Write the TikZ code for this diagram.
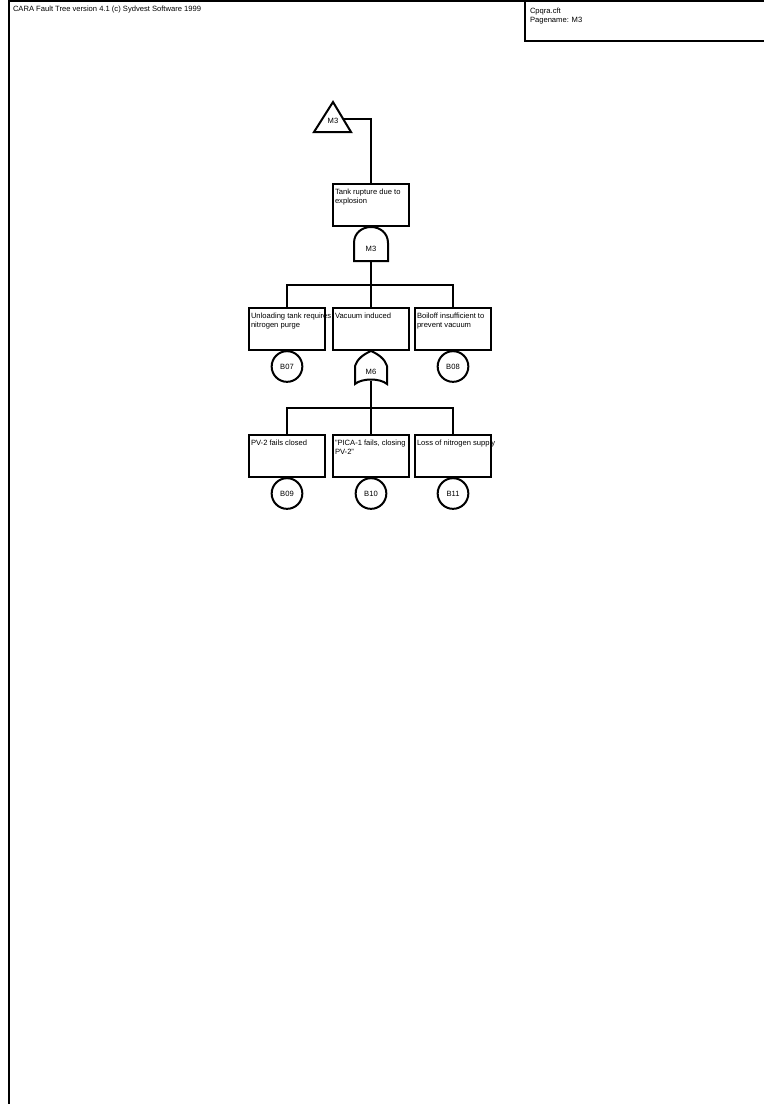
\documentclass[tikz,border=0pt]{standalone}
\usepackage{fontspec}
\setmainfont{Liberation Sans}
\tikzset{
  event/.style={rectangle,draw,minimum width=57pt,minimum height=31.5pt,inner sep=0pt},
  evtext/.style={anchor=north west,align=left,inner xsep=1.5pt,inner ysep=3.8pt,font=\fontsize{5.7}{6.7}\selectfont},
  basic/.style={circle,draw,minimum size=23pt,inner sep=0pt,font=\fontsize{5.7}{6.7}\selectfont},
  gatetext/.style={inner sep=0pt,font=\fontsize{5.7}{6.7}\selectfont},
}
\begin{document}
\begin{tikzpicture}[x=0.75pt,y=-0.75pt,line width=1.5pt]
  \useasboundingbox (0,0) rectangle (764,1104);
  % page frame and title block
  \draw (9,1104) -- (9,1) -- (764,1);
  \draw (525,1) -- (525,41) -- (764,41);
  \node[evtext,inner ysep=1.5pt] (title) at (10,3) {CARA Fault Tree version 4.1 (c) Sydvest Software 1999};
  \node[evtext,inner ysep=1.5pt] (page) at (527,5) {Cpqra.cft\\Pagename: M3};

  % transfer in
  \node[gatetext] (T) at (333,121) {M3};
  \draw (333,102) -- (351,132) -- (314,132) -- cycle;
  \coordinate (Tout) at (343,119);

  % top event and its AND gate
  \node[event,label={[evtext]north west:Tank rupture due to\\explosion}] (top) at (371,205) {};
  \draw (354,261) -- (354,243) .. controls (354,233) and (362,227) .. (371,227)
        .. controls (380,227) and (388,233) .. (388,243) -- (388,261) -- cycle;
  \node[gatetext] (G1) at (371,249) {M3};
  \coordinate (G1out) at (371,261);
  \coordinate (bar1) at (371,285);
  \draw (Tout) -| (top.north);

  % second level
  \node[event,label={[evtext]north west:Unloading tank requires\\nitrogen purge}] (E1) at (287,329) {};
  \node[event,label={[evtext]north west:Vacuum induced}] (E2) at (371,329) {};
  \node[event,label={[evtext]north west:Boiloff insufficient to\\prevent vacuum}] (E3) at (453,329) {};
  \node[basic] (B07) at (287,366.5) {B07};
  \node[basic] (B08) at (453,366.5) {B08};
  \draw (G1out) -- (bar1);
  \draw (E1.north) |- (bar1) -| (E3.north);
  \draw (bar1) -- (E2.north);

  % OR gate under vacuum induced
  \draw (371,351) .. controls (378,354) and (385,359) .. (387,366) -- (387,384)
        .. controls (380,378) and (362,378) .. (355,384) -- (355,366)
        .. controls (357,359) and (364,354) .. (371,351) -- cycle;
  \node[gatetext] (G2) at (371,372) {M6};
  \coordinate (G2out) at (371,381);
  \coordinate (bar2) at (371,408);

  % third level
  \node[event,label={[evtext]north west:PV-2 fails closed}] (E4) at (287,456) {};
  \node[event,label={[evtext]north west:{"PICA-1 fails, closing\\PV-2"}}] (E5) at (371,456) {};
  \node[event,label={[evtext]north west:Loss of nitrogen supply}] (E6) at (453,456) {};
  \node[basic] (B09) at (287,493.5) {B09};
  \node[basic] (B10) at (371,493.5) {B10};
  \node[basic] (B11) at (453,493.5) {B11};
  \draw (G2out) -- (bar2);
  \draw (E4.north) |- (bar2) -| (E6.north);
  \draw (bar2) -- (E5.north);
\end{tikzpicture}
\end{document}
